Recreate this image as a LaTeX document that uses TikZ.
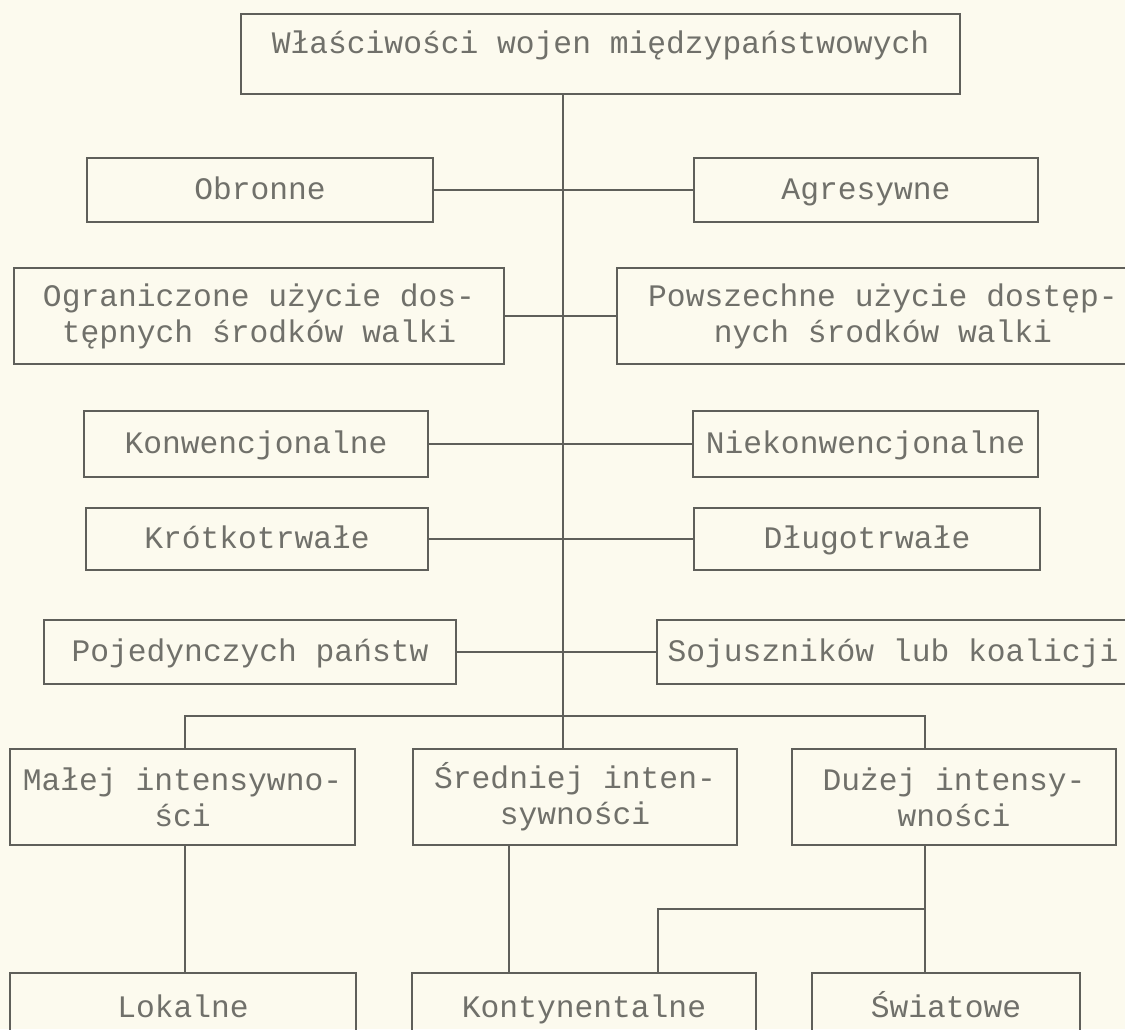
\documentclass[tikz,border=0pt]{standalone}
\usepackage{fontspec}
\newfontfamily\dotfont{Liberation Mono}
\usepackage{tikz}
\usetikzlibrary{backgrounds}
\usetikzlibrary{positioning}
\usetikzlibrary{calc}
\definecolor{paper}{RGB}{252,250,238}
\definecolor{ink}{RGB}{95,95,90}
\definecolor{print}{RGB}{112,112,106}
\tikzset{every picture/.style={line width=2pt,show background rectangle,inner frame sep=0pt},background rectangle/.style={fill=paper}}
\tikzset{box/.style={draw=ink,text=print,align=center,inner sep=0pt,font=\dotfont\fontsize{31.3pt}{36pt}\selectfont},one/.style={text height=18pt,text depth=0pt},link/.style={draw=ink}}

\begin{document}
\begin{tikzpicture}[x=1pt,y=-1pt]
\useasboundingbox (0,0) rectangle (1125,1029);
\clip (0,0) rectangle (1125,1029);
\node (wl) at (600.5,54) [box, minimum width=719pt, minimum height=80pt, text height=18pt, text depth=20pt] {Właściwości wojen międzypaństwowych};

% pary cech
\node (le1) at (260,190) [box, one, minimum width=346pt, minimum height=64pt] {Obronne};
\node (ri1) at (866,190) [box, one, minimum width=344pt, minimum height=64pt] {Agresywne};
\node (le2) at (259,316) [box, minimum width=490pt, minimum height=96pt] {Ograniczone użycie dos-\\tępnych środków walki};
\node (ri2) at (883,316) [box, minimum width=532pt, minimum height=96pt] {Powszechne użycie dostęp-\\nych środków walki};
\node (le3) at (256,444) [box, one, minimum width=344pt, minimum height=66pt] {Konwencjonalne};
\node (ri3) at (865.5,444) [box, one, minimum width=345pt, minimum height=66pt] {Niekonwencjonalne};
\node (le4) at (257,539) [box, one, minimum width=342pt, minimum height=62pt] {Krótkotrwałe};
\node (ri4) at (867,539) [box, one, minimum width=346pt, minimum height=62pt] {Długotrwałe};
\node (le5) at (250,652) [box, one, minimum width=412pt, minimum height=64pt] {Pojedynczych państw};
\node (ri5) at (893,652) [box, one, minimum width=472pt, minimum height=64pt] {Sojuszników lub koalicji};

% intensywnosc i zasieg
\node (in1) at (182.5,797) [box, minimum width=345pt, minimum height=96pt] {Małej intensywno-\\ści};
\node (in2) at (575,797) [box, minimum width=324pt, minimum height=96pt] {Średniej inten-\\sywności};
\node (in3) at (954,797) [box, minimum width=324pt, minimum height=96pt] {Dużej intensy-\\wności};
\node (za1) at (183,1008) [box, one, minimum width=346pt, minimum height=70pt] {Lokalne};
\node (za2) at (584,1008) [box, one, minimum width=344pt, minimum height=70pt] {Kontynentalne};
\node (za3) at (946,1008) [box, one, minimum width=268pt, minimum height=70pt] {Światowe};

\coordinate (tr) at (563,716);
\coordinate (bl) at (185,716);
\coordinate (br) at (925,716);
\coordinate (sd) at (509,900);
\coordinate (kn) at (658,909);
\draw[link] (wl.south -| tr) -- (tr);
\foreach \x in {1,...,5} {
\draw[link] (le\x) -- (ri\x);
}
\draw[link] (in1.north -| bl) -- (bl) -- (br) -- (in3.north -| br);
\draw[link] (tr) -- (in2.north -| tr);
\draw[link] (in1.south -| bl) -- (za1.north -| bl);
\draw[link] (in2.south -| sd) -- (za2.north -| sd);
\draw[link] (in3.south -| br) -- (za3.north -| br);
\draw[link] (kn -| br) -- (kn) -- (za2.north -| kn);
\end{tikzpicture}
\end{document}
